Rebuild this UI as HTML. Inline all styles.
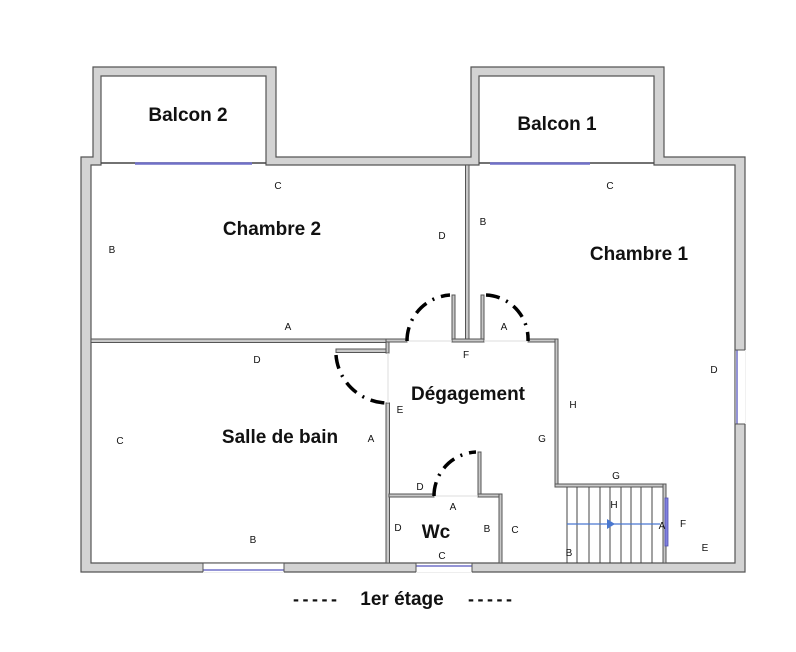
<!DOCTYPE html>
<html><head><meta charset="utf-8"><style>
html,body{margin:0;padding:0;background:#fff}
svg{display:block}
text{font-family:"Liberation Sans",sans-serif;fill:#111}
.b{font-weight:bold;font-size:19px}
.s{font-size:10px}
</style></head><body>
<svg width="796" height="652" viewBox="0 0 796 652" xmlns="http://www.w3.org/2000/svg">
<polygon points="81,157 93,157 93,67 276,67 276,157 471,157 471,67 664,67 664,157 745,157 745,572 81,572" fill="#d3d3d3" stroke="#555" stroke-width="1.2"/>
<polygon points="91,165 101,165 101,76 266,76 266,165 479,165 479,76 654,76 654,165 735,165 735,563 91,563" fill="#fff" stroke="#555" stroke-width="1.2"/>
<line x1="101" y1="163" x2="266" y2="163" stroke="#444" stroke-width="1.5"/>
<line x1="135" y1="163.5" x2="252" y2="163.5" stroke="#7070c8" stroke-width="2.5"/>
<line x1="479" y1="163" x2="654" y2="163" stroke="#444" stroke-width="1.5"/>
<line x1="490" y1="163.5" x2="590" y2="163.5" stroke="#7070c8" stroke-width="2.5"/>
<rect x="203" y="563.6" width="81" height="9" fill="#fff"/>
<line x1="203" y1="570" x2="284" y2="570" stroke="#7070c8" stroke-width="1.5"/>
<line x1="203" y1="563" x2="203" y2="572" stroke="#555"/><line x1="284" y1="563" x2="284" y2="572" stroke="#555"/>
<rect x="416" y="563.6" width="56" height="9" fill="#fff"/>
<line x1="416" y1="566" x2="472" y2="566" stroke="#7070c8" stroke-width="1.5"/>
<line x1="416" y1="563" x2="416" y2="572" stroke="#555"/><line x1="472" y1="563" x2="472" y2="572" stroke="#555"/>
<rect x="735.6" y="350" width="10" height="74" fill="#fff"/>
<line x1="737" y1="350" x2="737" y2="424" stroke="#7070c8" stroke-width="1.5"/>
<line x1="735" y1="350" x2="745" y2="350" stroke="#555"/><line x1="735" y1="424" x2="745" y2="424" stroke="#555"/>
<g fill="#c8c8c8" stroke="#555" stroke-width="1">
<rect x="465.5" y="165" width="3.5" height="176"/>
<rect x="452" y="295" width="3" height="46"/>
<rect x="481" y="295" width="3" height="46"/>
<rect x="91" y="339" width="297" height="3.5"/>
<rect x="336" y="349" width="52" height="3.5"/>
<rect x="386" y="339" width="3" height="14"/>
<rect x="386" y="403" width="3.5" height="160"/>
<rect x="386" y="339" width="21" height="3"/>
<rect x="452" y="339" width="32" height="3"/>
<rect x="528" y="339" width="29" height="3"/>
<rect x="555" y="339" width="3" height="147"/>
<rect x="555" y="484" width="111" height="3"/>
<rect x="663" y="484" width="3" height="79"/>
<rect x="389" y="494" width="45" height="3"/>
<rect x="478" y="452" width="3" height="45"/>
<rect x="478" y="494" width="23" height="3"/>
<rect x="499" y="494" width="3" height="69"/>
</g>
<g stroke="#ddd" stroke-width="1">
<line x1="407" y1="341" x2="452" y2="341"/><line x1="484" y1="341" x2="528" y2="341"/>
<line x1="388" y1="353" x2="388" y2="403"/><line x1="434" y1="496" x2="478" y2="496"/>
</g>
<g fill="none" stroke="#000" stroke-width="3.5" stroke-dasharray="14,7,2,7">
<path d="M407,341 A46,46 0 0 1 450,295"/>
<path d="M486,295 A44,44 0 0 1 528,341"/>
<path d="M336,355 A52,52 0 0 0 388,403"/>
<path d="M434,496 A44,44 0 0 1 476,452"/>
</g>
<g stroke="#444" stroke-width="1">
<line x1="567" y1="487" x2="567" y2="563"/><line x1="577" y1="487" x2="577" y2="563"/>
<line x1="589" y1="487" x2="589" y2="563"/><line x1="600" y1="487" x2="600" y2="563"/>
<line x1="610" y1="487" x2="610" y2="563"/><line x1="621" y1="487" x2="621" y2="563"/>
<line x1="631" y1="487" x2="631" y2="563"/><line x1="641" y1="487" x2="641" y2="563"/>
<line x1="652" y1="487" x2="652" y2="563"/>
</g>
<line x1="567" y1="524" x2="660" y2="524" stroke="#4a78d0" stroke-width="1.2"/>
<polygon points="607,519 615,524 607,529" fill="#4a78d0"/>
<rect x="665" y="498" width="3" height="48" fill="#8080e0" stroke="#5050b0" stroke-width="0.8"/>
<text class="b" x="188" y="121" text-anchor="middle">Balcon 2</text>
<text class="b" x="557" y="130" text-anchor="middle">Balcon 1</text>
<text class="b" x="272" y="235" text-anchor="middle">Chambre 2</text>
<text class="b" x="639" y="260" text-anchor="middle">Chambre 1</text>
<text class="b" x="468" y="400" text-anchor="middle">Dégagement</text>
<text class="b" x="280" y="443" text-anchor="middle">Salle de bain</text>
<text class="b" x="436" y="538" text-anchor="middle">Wc</text>
<g class="s" text-anchor="middle">
<text class="s" x="278" y="189">C</text>
<text class="s" x="112" y="253">B</text>
<text class="s" x="442" y="239">D</text>
<text class="s" x="483" y="225">B</text>
<text class="s" x="610" y="189">C</text>
<text class="s" x="288" y="330">A</text>
<text class="s" x="504" y="330">A</text>
<text class="s" x="466" y="358">F</text>
<text class="s" x="257" y="363">D</text>
<text class="s" x="400" y="413">E</text>
<text class="s" x="120" y="444">C</text>
<text class="s" x="371" y="442">A</text>
<text class="s" x="573" y="408">H</text>
<text class="s" x="542" y="442">G</text>
<text class="s" x="714" y="373">D</text>
<text class="s" x="616" y="479">G</text>
<text class="s" x="614" y="508">H</text>
<text class="s" x="420" y="490">D</text>
<text class="s" x="453" y="510">A</text>
<text class="s" x="398" y="531">D</text>
<text class="s" x="487" y="532">B</text>
<text class="s" x="515" y="533">C</text>
<text class="s" x="442" y="559">C</text>
<text class="s" x="569" y="556">B</text>
<text class="s" x="662" y="529">A</text>
<text class="s" x="683" y="527">F</text>
<text class="s" x="705" y="551">E</text>
<text class="s" x="253" y="543">B</text>
</g>
<text x="315" y="605" text-anchor="middle" style="font-size:18px;font-weight:bold" textLength="44">-----</text>
<text x="402" y="605" text-anchor="middle" style="font-size:19px;font-weight:bold">1er étage</text>
<text x="490" y="605" text-anchor="middle" style="font-size:18px;font-weight:bold" textLength="44">-----</text>
</svg>
</body></html>
